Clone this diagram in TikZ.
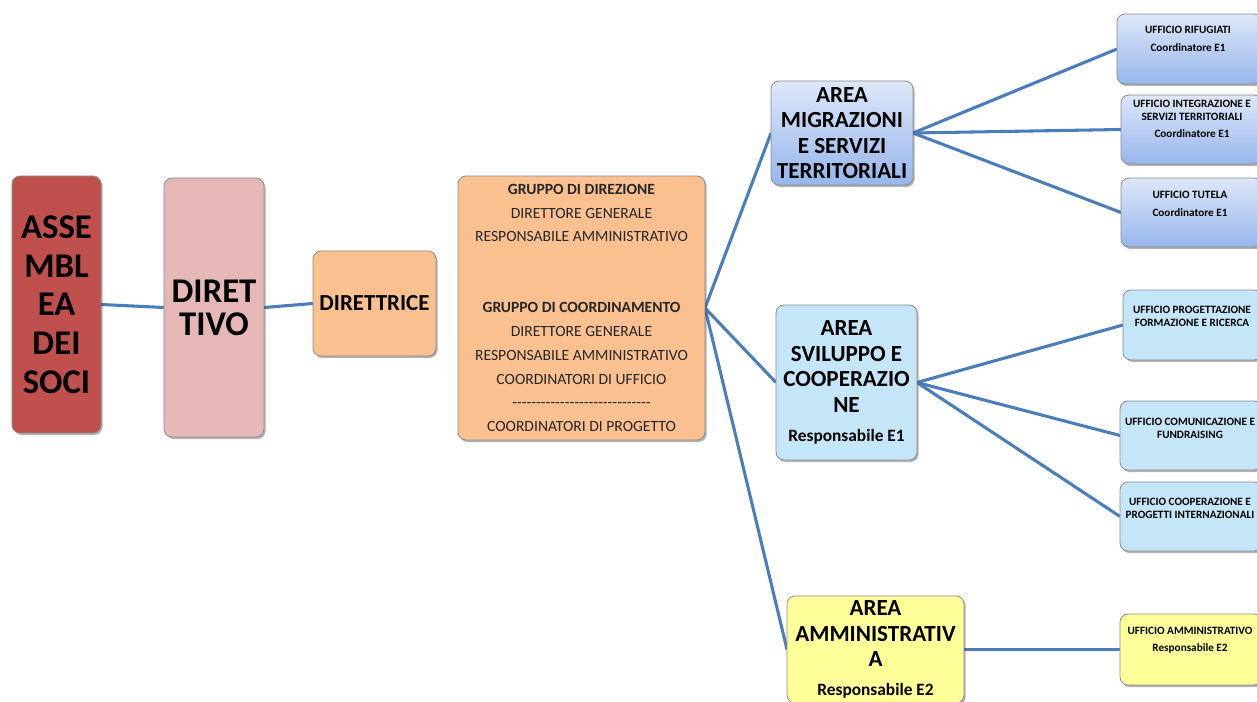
\documentclass[tikz,border=0pt]{standalone}
\usepackage{fontspec}
\setmainfont{Carlito}
\usetikzlibrary{shadows,backgrounds}
\definecolor{lineblue}{RGB}{74,126,187}
\definecolor{assered}{RGB}{192,80,77}
\definecolor{dirpink}{RGB}{229,184,183}
\definecolor{orangel}{RGB}{250,192,144}
\definecolor{bluetop}{RGB}{222,231,249}
\definecolor{bluebot}{RGB}{150,182,236}
\definecolor{skyblue}{RGB}{197,229,249}
\definecolor{yellowl}{RGB}{255,255,153}
\newcommand\hyrow{\mbox{-}\mbox{-}\mbox{-}\mbox{-}\mbox{-}\mbox{-}\mbox{-}\mbox{-}\mbox{-}\mbox{-}\mbox{-}\mbox{-}\mbox{-}\mbox{-}\mbox{-}\mbox{-}\mbox{-}\mbox{-}\mbox{-}\mbox{-}\mbox{-}\mbox{-}\mbox{-}\mbox{-}\mbox{-}\mbox{-}\mbox{-}\mbox{-}\mbox{-}}
\begin{document}
\begin{tikzpicture}[x=0.75pt,y=-0.75pt,
  box/.style={draw=black!45, line width=0.6pt, rounded corners=6pt, inner sep=0pt, outer sep=0pt, align=center,
    drop shadow={opacity=0.3, shadow xshift=1.2pt, shadow yshift=-1.5pt, fill=black}},
  gradbox/.style={box, top color=bluetop, bottom color=bluebot},
  conn/.style={draw=lineblue, line width=2.3pt},
  areafont/.style={font=\bfseries\fontsize{17.3}{19.1}\selectfont},
  uff/.style={align=center, inner sep=0pt, font=\bfseries\fontsize{8.4}{9.75}\selectfont},
]
\useasboundingbox (0,0) rectangle (1257,702);
\clip (0,0) rectangle (1257,702);

% left column
\node[box, fill=assered, minimum width=66.75pt, minimum height=192.75pt,
  font=\bfseries\fontsize{26}{29}\selectfont] (asse) at (56.5,304.5) {ASSE\\MBL\\EA\\DEI\\SOCI};
\node[box, fill=dirpink, minimum width=75pt, minimum height=194.25pt,
  font=\bfseries\fontsize{26}{24.75}\selectfont] (dir) at (214,307.5) {DIRET\\TIVO};
\node[box, fill=orangel, minimum width=92.25pt, minimum height=78.75pt,
  font=\bfseries\fontsize{17.2}{19}\selectfont] (dtr) at (374.5,303.5) {DIRETTRICE};
\node[box, fill=orangel, minimum width=185.25pt, minimum height=198pt,
  font=\fontsize{11.7}{17.8}\selectfont, text=black!85] (grp) at (581.5,308)
  {\textbf{GRUPPO DI DIREZIONE}\\DIRETTORE GENERALE\\RESPONSABILE AMMINISTRATIVO\\[35.5pt]
   \textbf{GRUPPO DI COORDINAMENTO}\\DIRETTORE GENERALE\\RESPONSABILE AMMINISTRATIVO\\COORDINATORI DI UFFICIO\\\hyrow\\COORDINATORI DI PROGETTO};

% areas
\node[gradbox, areafont, minimum width=106.5pt, minimum height=78pt] (amig) at (842,133)
  {AREA\\MIGRAZIONI\\E SERVIZI\\TERRITORIALI};
\node[box, areafont, fill=skyblue, minimum width=105.75pt, minimum height=116.25pt] (asvi) at (846.5,382.5)
  {AREA\\SVILUPPO E\\COOPERAZIO\\NE\\[2.7pt]{\fontsize{13}{19.1}\selectfont Responsabile E1}};
\node[box, areafont, fill=yellowl, minimum width=132.75pt, minimum height=80.25pt] (aamm) at (875.5,649.5)
  {AREA\\AMMINISTRATIV\\A\\[2.7pt]{\fontsize{13}{19.1}\selectfont Responsabile E2}};

% offices
\node[gradbox, minimum width=108.75pt, minimum height=52.5pt] (urif) at (1189.5,49) {};
\node[gradbox, minimum width=105.75pt, minimum height=51.75pt] (uint) at (1191.5,129.5) {};
\node[gradbox, minimum width=105.75pt, minimum height=51.75pt] (utut) at (1191.5,212.5) {};
\node[box, fill=skyblue, minimum width=104.25pt, minimum height=52.5pt] (upro) at (1192.5,325) {};
\node[box, fill=skyblue, minimum width=106.5pt, minimum height=51.75pt] (ucom) at (1191,435.5) {};
\node[box, fill=skyblue, minimum width=106.5pt, minimum height=51.75pt] (ucoo) at (1191,516.5) {};
\node[box, fill=yellowl, minimum width=106.5pt, minimum height=53.25pt] (uamm) at (1191,649.5) {};

\node[uff] (turif) at (1188,39) {UFFICIO RIFUGIATI\\[3.4pt]Coordinatore E1};
\node[uff] (tuint) at (1192,119) {UFFICIO INTEGRAZIONE E\\SERVIZI TERRITORIALI\\[3.4pt]Coordinatore E1};
\node[uff] (tutut) at (1190,204) {UFFICIO TUTELA\\[3.4pt]Coordinatore E1};
\node[uff] (tupro) at (1192,316) {UFFICIO PROGETTAZIONE\\FORMAZIONE E RICERCA};
\node[uff] (tucom) at (1190,428) {UFFICIO COMUNICAZIONE E\\FUNDRAISING};
\node[uff] (tucoo) at (1190,508) {UFFICIO COOPERAZIONE E\\PROGETTI INTERNAZIONALI};
\node[uff] (tuamm) at (1190,640) {UFFICIO AMMINISTRATIVO\\[3.4pt]Responsabile E2};

% connectors
\begin{scope}[on background layer]
\draw[conn] (asse.east) -- (dir.west);
\draw[conn] (dir.east) -- (dtr.west);
\draw[conn] (grp.east) -- (amig.west);
\draw[conn] (grp.east) -- (asvi.west);
\draw[conn] (grp.east) -- (aamm.west);
\draw[conn] (amig.east) -- (urif.west);
\draw[conn] (amig.east) -- (uint.west);
\draw[conn] (amig.east) -- (utut.west);
\draw[conn] (asvi.east) -- (upro.west);
\draw[conn] (asvi.east) -- (ucom.west);
\draw[conn] (asvi.east) -- (ucoo.west);
\draw[conn] (aamm.east) -- (uamm.west);
\end{scope}
\end{tikzpicture}
\end{document}
